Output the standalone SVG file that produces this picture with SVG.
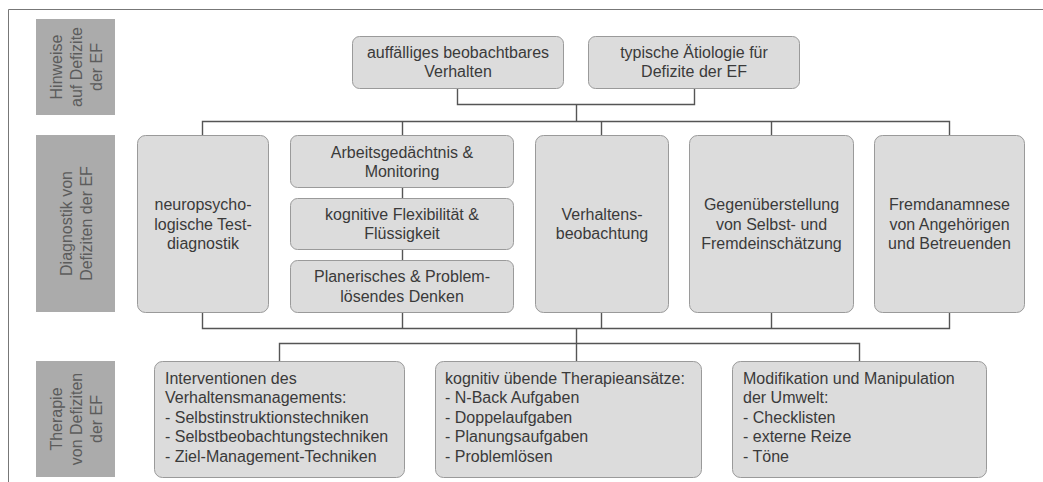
<svg xmlns="http://www.w3.org/2000/svg" width="1043" height="482" viewBox="0 0 1043 482">
<style>
.frame{fill:none;stroke:#777;stroke-width:1}
.side{fill:#ababab}
.sidetxt{font-family:"Liberation Sans",Arial,sans-serif;font-size:16px;fill:#5c5c5c;text-anchor:middle}
.box{fill:#dcdcdc;stroke:#9a9a9a;stroke-width:1}
.t{font-family:"Liberation Sans",Arial,sans-serif;font-size:16px;fill:#3a3a3a;text-anchor:middle}
.tl{font-family:"Liberation Sans",Arial,sans-serif;font-size:16px;fill:#3a3a3a}
.conn{fill:none;stroke:#555;stroke-width:1.4}
</style>
<rect width="1043" height="482" fill="#fff"/>
<path class="frame" d="M8.5 482 V9.5 H1043"/>

<g id="label-hinweise">
<rect class="side" x="36" y="19" width="79" height="96"/>
<text class="sidetxt" transform="translate(75.5,67) rotate(-90)"><tspan x="0" y="-14">Hinweise</tspan><tspan x="0" y="6">auf Defizite</tspan><tspan x="0" y="26">der EF</tspan></text>
</g>
<g id="label-diagnostik">
<rect class="side" x="36" y="135" width="79" height="177"/>
<text class="sidetxt" transform="translate(75.5,223.5) rotate(-90)"><tspan x="0" y="-4">Diagnostik von</tspan><tspan x="0" y="16">Defiziten der EF</tspan></text>
</g>
<g id="label-therapie">
<rect class="side" x="36" y="361" width="79" height="116"/>
<text class="sidetxt" transform="translate(75.5,419) rotate(-90)"><tspan x="0" y="-14">Therapie</tspan><tspan x="0" y="6">von Defiziten</tspan><tspan x="0" y="26">der EF</tspan></text>
</g>

<g id="connectors">
<path class="conn" d="M457.5 88 V104.5 H694.5 V88"/>
<path class="conn" d="M576.5 104.5 V121.5"/>
<path class="conn" d="M202.5 135 V121.5 H949.5 V135"/>
<path class="conn" d="M402.5 121.5 V135 M601.5 121.5 V135 M771.5 121.5 V135"/>
<path class="conn" d="M402.5 188 V198 M402.5 249 V260"/>
<path class="conn" d="M202.5 312 V328.5 H949.5 V312"/>
<path class="conn" d="M402.5 312 V328.5 M601.5 312 V328.5 M771.5 312 V328.5"/>
<path class="conn" d="M576.5 328.5 V343.5"/>
<path class="conn" d="M279.5 361 V343.5 H859.5 V361"/>
<path class="conn" d="M576.5 343.5 V361"/>
</g>

<g id="node-verhalten">
<rect class="box" x="352.5" y="36.5" width="211" height="52" rx="7"/>
<text class="t"><tspan x="458" y="57.5">auffälliges beobachtbares</tspan><tspan x="458" y="77">Verhalten</tspan></text>
</g>
<g id="node-aetiologie">
<rect class="box" x="588.5" y="36.5" width="211" height="52" rx="7"/>
<text class="t"><tspan x="694" y="57.5">typische Ätiologie für</tspan><tspan x="694" y="77">Defizite der EF</tspan></text>
</g>

<g id="node-neuropsych">
<rect class="box" x="137.5" y="135.5" width="131" height="177" rx="8"/>
<text class="t"><tspan x="203" y="210">neuropsycho-</tspan><tspan x="203" y="229.5">logische Test-</tspan><tspan x="203" y="249">diagnostik</tspan></text>
</g>
<g id="node-arbeitsgedaechtnis">
<rect class="box" x="290.5" y="135.5" width="223" height="52" rx="7"/>
<text class="t"><tspan x="402" y="157.5">Arbeitsgedächtnis &amp;</tspan><tspan x="402" y="177">Monitoring</tspan></text>
</g>
<g id="node-flexibilitaet">
<rect class="box" x="290.5" y="198.5" width="223" height="51" rx="7"/>
<text class="t"><tspan x="402" y="219.5">kognitive Flexibilität &amp;</tspan><tspan x="402" y="239">Flüssigkeit</tspan></text>
</g>
<g id="node-planerisch">
<rect class="box" x="290.5" y="260.5" width="223" height="52" rx="7"/>
<text class="t"><tspan x="402" y="282">Planerisches &amp; Problem-</tspan><tspan x="402" y="301.5">lösendes Denken</tspan></text>
</g>
<g id="node-verhaltensbeobachtung">
<rect class="box" x="535.5" y="135.5" width="133" height="177" rx="8"/>
<text class="t"><tspan x="602" y="219.5">Verhaltens-</tspan><tspan x="602" y="239">beobachtung</tspan></text>
</g>
<g id="node-gegenueberstellung">
<rect class="box" x="689.5" y="135.5" width="164" height="177" rx="8"/>
<text class="t"><tspan x="771.5" y="210">Gegenüberstellung</tspan><tspan x="771.5" y="229.5">von Selbst- und</tspan><tspan x="771.5" y="249">Fremdeinschätzung</tspan></text>
</g>
<g id="node-fremdanamnese">
<rect class="box" x="874.5" y="135.5" width="150" height="177" rx="8"/>
<text class="t"><tspan x="949.5" y="210">Fremdanamnese</tspan><tspan x="949.5" y="229.5">von Angehörigen</tspan><tspan x="949.5" y="249">und Betreuenden</tspan></text>
</g>

<g id="node-interventionen">
<rect class="box" x="154.5" y="361.5" width="250" height="116" rx="8"/>
<text class="tl"><tspan x="165" y="383.5">Interventionen des</tspan><tspan x="165" y="403">Verhaltensmanagements:</tspan><tspan x="165" y="422.5">- Selbstinstruktionstechniken</tspan><tspan x="165" y="442">- Selbstbeobachtungstechniken</tspan><tspan x="165" y="461.5">- Ziel-Management-Techniken</tspan></text>
</g>
<g id="node-kognitiv">
<rect class="box" x="435.5" y="361.5" width="266" height="116" rx="8"/>
<text class="tl"><tspan x="445" y="383.5">kognitiv übende Therapieansätze:</tspan><tspan x="445" y="403">- N-Back Aufgaben</tspan><tspan x="445" y="422.5">- Doppelaufgaben</tspan><tspan x="445" y="442">- Planungsaufgaben</tspan><tspan x="445" y="461.5">- Problemlösen</tspan></text>
</g>
<g id="node-umwelt">
<rect class="box" x="732.5" y="361.5" width="254" height="116" rx="8"/>
<text class="tl"><tspan x="743" y="383.5">Modifikation und Manipulation</tspan><tspan x="743" y="403">der Umwelt:</tspan><tspan x="743" y="422.5">- Checklisten</tspan><tspan x="743" y="442">- externe Reize</tspan><tspan x="743" y="461.5">- Töne</tspan></text>
</g>
</svg>
